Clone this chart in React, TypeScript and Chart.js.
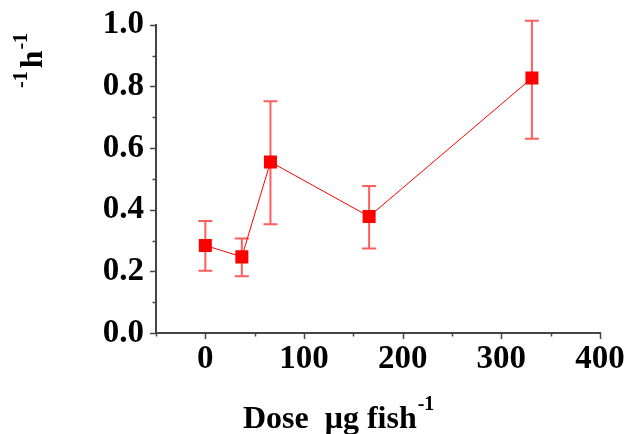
import React, { useEffect, useRef } from "react";
import { Chart, registerables } from "chart.js";

Chart.register(...registerables);

const doses = [0, 37, 66, 166, 331];
const means = [0.284, 0.247, 0.555, 0.378, 0.827];
const upperErr = [0.363, 0.307, 0.752, 0.477, 1.013];
const lowerErr = [0.202, 0.184, 0.353, 0.274, 0.63];
const xMajorTicks = [0, 100, 200, 300, 400];
const xMinorTicks = [-50, 50, 150, 250, 350];
const yMajorTicks = [0, 0.2, 0.4, 0.6, 0.8, 1.0];
const yMinorTicks = [0.1, 0.3, 0.5, 0.7, 0.9];

const FONT = "'Liberation Serif', 'Times New Roman', serif";
const AXIS_COLOR = "#444";

const decorPlugin = {
  id: "decor",
  beforeDatasetsDraw(chart: any) {
    const ctx = chart.ctx;
    const xs = chart.scales.x;
    const ys = chart.scales.y;
    ctx.save();
    ctx.strokeStyle = "rgba(255,40,40,0.75)";
    ctx.lineWidth = 2;
    doses.forEach((d, i) => {
      const px = xs.getPixelForValue(d);
      const pt = ys.getPixelForValue(upperErr[i]);
      const pb = ys.getPixelForValue(lowerErr[i]);
      ctx.beginPath();
      ctx.moveTo(px, pt);
      ctx.lineTo(px, pb);
      ctx.moveTo(px - 7, pt);
      ctx.lineTo(px + 7, pt);
      ctx.moveTo(px - 7, pb);
      ctx.lineTo(px + 7, pb);
      ctx.stroke();
    });
    ctx.restore();
  },
  afterDraw(chart: any) {
    const ctx = chart.ctx;
    const xs = chart.scales.x;
    const ys = chart.scales.y;
    const area = chart.chartArea;
    ctx.save();
    ctx.strokeStyle = AXIS_COLOR;
    ctx.lineWidth = 1.5;
    ctx.beginPath();
    xMajorTicks.forEach((v) => {
      const p = Math.round(xs.getPixelForValue(v)) + 0.5;
      ctx.moveTo(p, area.bottom);
      ctx.lineTo(p, area.bottom + 6);
    });
    xMinorTicks.forEach((v) => {
      const p = Math.round(xs.getPixelForValue(v)) + 0.5;
      ctx.moveTo(p, area.bottom);
      ctx.lineTo(p, area.bottom + 3.5);
    });
    yMajorTicks.forEach((v) => {
      const p = Math.round(ys.getPixelForValue(v)) + 0.5;
      ctx.moveTo(area.left, p);
      ctx.lineTo(area.left - 6, p);
    });
    yMinorTicks.forEach((v) => {
      const p = Math.round(ys.getPixelForValue(v)) + 0.5;
      ctx.moveTo(area.left, p);
      ctx.lineTo(area.left - 3.5, p);
    });
    ctx.stroke();

    // X title
    ctx.fillStyle = "#000";
    ctx.textBaseline = "alphabetic";
    ctx.textAlign = "left";
    ctx.font = `bold 32px ${FONT}`;
    const main = "Dose  \u03bcg fish";
    ctx.fillText(main, 243, 428);
    const w = ctx.measureText(main).width;
    ctx.font = `bold 20px ${FONT}`;
    ctx.fillText("-1", 243 + w + 1, 410);

    // Y title (partially visible)
    ctx.translate(42, 88);
    ctx.rotate(-Math.PI / 2);
    let x = 0;
    ctx.font = `bold 20px ${FONT}`;
    ctx.fillText("-1", x, -15);
    x += ctx.measureText("-1").width + 3;
    ctx.font = `bold 32px ${FONT}`;
    ctx.fillText("h", x, 0);
    x += ctx.measureText("h").width + 1;
    ctx.font = `bold 20px ${FONT}`;
    ctx.fillText("-1", x, -15);
    ctx.restore();
  },
};

export default function App() {
  const ref = useRef<HTMLCanvasElement | null>(null);
  useEffect(() => {
    if (!ref.current) return;
    const chart = new Chart(ref.current, {
      type: "line",
      data: {
        datasets: [
          {
            data: doses.map((d, i) => ({ x: d, y: means[i] })),
            borderColor: "#ff0000",
            backgroundColor: "#ff0000",
            borderWidth: 1,
            pointStyle: "rect",
            pointRadius: 9.2,
            pointBorderWidth: 0,
            pointBackgroundColor: "#ff0000",
            tension: 0,
          },
        ],
      },
      options: {
        animation: false,
        responsive: true,
        maintainAspectRatio: false,
        layout: { padding: { top: 23, right: 28, left: 0, bottom: 0 } },
        plugins: { legend: { display: false }, tooltip: { enabled: false } },
        scales: {
          x: {
            type: "linear",
            min: -50,
            max: 400,
            afterFit: (s: any) => {
              s.height = 101;
            },
            afterBuildTicks: (s: any) => {
              s.ticks = xMajorTicks.map((v) => ({ value: v }));
            },
            grid: { display: true, drawOnChartArea: false, drawTicks: true, tickLength: 7, color: "rgba(0,0,0,0)" },
            border: { display: true, color: AXIS_COLOR, width: 2 },
            ticks: {
              color: "#000",
              padding: 0,
              maxRotation: 0,
              font: { family: FONT, size: 33, weight: "bold" },
              callback: (v: any) => String(v),
            },
          },
          y: {
            type: "linear",
            min: 0,
            max: 1.0,
            afterFit: (s: any) => {
              s.width = 156;
            },
            afterBuildTicks: (s: any) => {
              s.ticks = yMajorTicks.map((v) => ({ value: v }));
            },
            grid: { display: true, drawOnChartArea: false, drawTicks: true, tickLength: 7, color: "rgba(0,0,0,0)" },
            border: { display: true, color: AXIS_COLOR, width: 2 },
            ticks: {
              color: "#000",
              padding: 5,
              font: { family: FONT, size: 33, weight: "bold" },
              callback: (v: any) => Number(v).toFixed(1),
            },
          },
        },
      },
      plugins: [decorPlugin],
    });
    return () => chart.destroy();
  }, []);
  return (
    <div style={{ position: "fixed", left: 0, top: 0, width: 628, height: 434, background: "#fff" }}>
      <canvas ref={ref} />
    </div>
  );
}
